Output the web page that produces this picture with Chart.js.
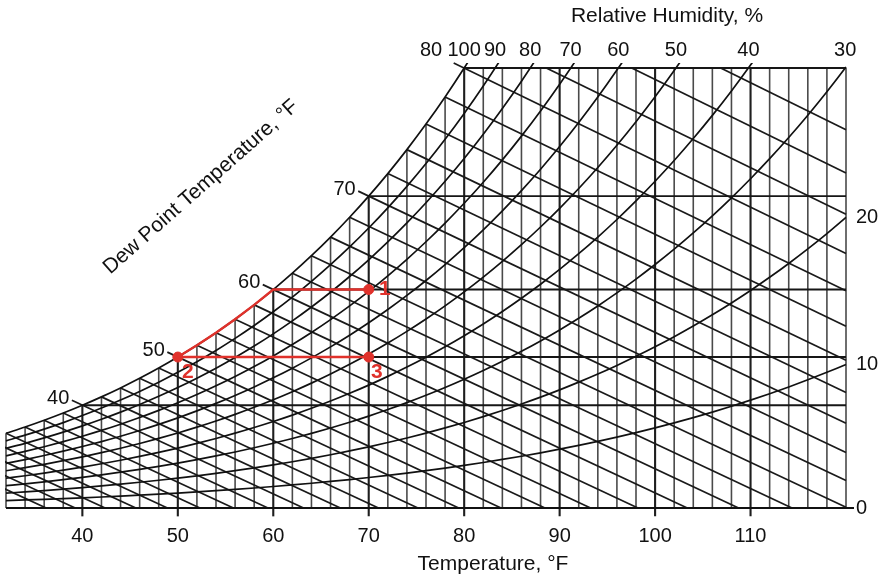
<!DOCTYPE html>
<html>
<head>
<meta charset="utf-8">
<title>Carta psicrométrica</title>
<script src="https://cdn.jsdelivr.net/npm/chart.js@4.4.0/dist/chart.umd.min.js"></script>
<style>
    html, body { margin: 0; padding: 0; background: #fff; }
    #carta { display: block; }
</style>
</head>
<body>
<canvas id="carta" width="890" height="580"></canvas>
<script>
// Tabla de temperaturas (°F) y presión de saturación del vapor (psia)
const temperaturas = [22, 24, 26, 28, 30, 32, 34, 36, 38, 40, 42, 44, 46, 48, 50, 52, 54, 56, 58, 60,
    62, 64, 66, 68, 70, 72, 74, 76, 78, 80, 82, 84, 86, 88, 90, 92, 94, 96, 98, 100,
    102, 104, 106, 108, 110, 112, 114, 116, 118, 120, 122];
const presionSat = [0.05866, 0.06381, 0.06935, 0.07532, 0.08175, 0.08865, 0.09606, 0.10402, 0.11256, 0.12171,
    0.13153, 0.14202, 0.15326, 0.16526, 0.17809, 0.19179, 0.20640, 0.22199, 0.23860, 0.25631,
    0.27515, 0.29519, 0.31651, 0.33916, 0.36321, 0.38876, 0.41585, 0.44458, 0.47504, 0.50728,
    0.54142, 0.57754, 0.61575, 0.65612, 0.69877, 0.74381, 0.79137, 0.84156, 0.89447, 0.95030,
    1.00896, 1.07082, 1.13591, 1.20436, 1.27635, 1.35205, 1.43161, 1.51511, 1.60281, 1.69470, 1.79115];

const humedadesRel = [10, 20, 30, 40, 50, 60, 70, 80, 90, 100];
const etiquetasHRsup = [30, 40, 50, 60, 70, 80, 90, 100];
const etiquetasHRder = [0, 10, 20];
const puntosRocio = [40, 50, 60, 70, 80];
const ticksTemp = [40, 50, 60, 70, 80, 90, 100, 110];

// Proceso 1 -> 2 -> 3 (bulbo seco y punto de rocío, °F)
const procesoTemp = [70, 50, 70];
const procesoRocio = [60, 50, 50];
const procesoNombres = ['1', '2', '3'];

const T_MIN = 32;
const T_MAX = 120;
const PRESION_ATM = 14.696;

const colorProceso = '#e0312b';
const colorTexto = '#111';

function psatEn(t) {
    return presionSat[temperaturas.indexOf(t)];
}

// humedad específica en granos por libra de aire seco
function humedad(pv) {
    return 7000 * 0.621945 * pv / (PRESION_ATM - pv);
}

const W_TOPE = humedad(psatEn(80));

// temperatura donde una curva de HR toca el borde superior
function temperaturaTope(hr) {
    const objetivo = psatEn(80) * 100 / hr;
    for (let i = 1; i < temperaturas.length; i++) {
        if (presionSat[i] >= objetivo) {
            const f = (objetivo - presionSat[i - 1]) / (presionSat[i] - presionSat[i - 1]);
            return Math.min(T_MAX, temperaturas[i - 1] + f * (temperaturas[i] - temperaturas[i - 1]));
        }
    }
    return T_MAX;
}

// línea de bulbo húmedo: desde la saturación hasta W = 0 o hasta el borde derecho
function lineaBulboHumedo(twb, extension) {
    const ws = humedad(psatEn(twb)) / 7000;
    let tFin = twb + (1093 - 0.556 * twb) * ws / 0.240;
    let wFin = 0;
    if (tFin > T_MAX) {
        tFin = T_MAX;
        wFin = ((1093 - 0.556 * twb) * ws - 0.240 * (T_MAX - twb)) / (1093 + 0.444 * T_MAX - twb);
    }
    const pendiente = (wFin - ws) * 7000 / (tFin - twb);
    const inicio = { x: twb - extension, y: ws * 7000 - pendiente * extension };
    return [inicio, { x: tFin, y: wFin * 7000 }];
}

function linea(data, color, ancho, extra) {
    return Object.assign({
        data: data,
        borderColor: color,
        borderWidth: ancho,
        pointRadius: 0,
        fill: false,
        clip: 1
    }, extra || {});
}

const datasets = [];

// proceso en rojo (primero para que quede encima)
const puntosProceso = procesoTemp.map((t, i) => ({ x: t, y: humedad(psatEn(procesoRocio[i])) }));
const trayecto = [puntosProceso[0]];
temperaturas.filter(t => t <= procesoRocio[0] && t >= procesoRocio[1]).reverse()
    .forEach(t => trayecto.push({ x: t, y: humedad(psatEn(t)) }));
trayecto.push(puntosProceso[2]);

datasets.push({
    data: puntosProceso,
    showLine: false,
    pointRadius: 5,
    pointBackgroundColor: colorProceso,
    pointBorderColor: colorProceso,
    clip: false
});
datasets.push(linea(trayecto, colorProceso, 2.4));

// curvas de humedad relativa
const tablaCurvas = temperaturas.filter(t => t >= T_MIN);
humedadesRel.forEach(hr => {
    const datos = tablaCurvas.map(t => ({ x: t, y: humedad(hr / 100 * psatEn(t)) }));
    datasets.push(linea(datos, '#111', 1.7, {
        cubicInterpolationMode: 'monotone',
        clip: { left: 1, top: 5, right: 6, bottom: 0 }
    }));
});
// línea base (HR 0)
datasets.push(linea([{ x: T_MIN, y: 0 }, { x: T_MAX + 1, y: 0 }], '#111', 1.8,
    { clip: { left: 1, top: 0, right: 8, bottom: 2 } }));

// líneas de punto de rocío (horizontales)
puntosRocio.forEach(td => {
    const w = humedad(psatEn(td));
    datasets.push(linea([{ x: td, y: w }, { x: T_MAX, y: w }], '#161616', 1.9,
        { clip: { left: 1, top: 2, right: 2, bottom: 0 } }));
});

// líneas de bulbo húmedo
temperaturas.filter(t => t >= 24 && t <= 86).forEach(twb => {
    const conEtiqueta = puntosRocio.includes(twb);
    datasets.push(linea(lineaBulboHumedo(twb, conEtiqueta ? 1.1 : 0), '#1a1a1a', 1.7,
        conEtiqueta ? { clip: { left: 20, top: 20, right: 1, bottom: 1 } } : {}));
});

// líneas de bulbo seco (verticales)
temperaturas.filter(t => t >= T_MIN && t <= T_MAX).forEach(t => {
    const marca = ticksTemp.includes(t);
    const arriba = Math.min(humedad(psatEn(t)), W_TOPE);
    const abajo = marca ? -W_TOPE * 0.019 : 0;
    datasets.push(linea([{ x: t, y: abajo }, { x: t, y: arriba }],
        marca ? '#1e1e1e' : '#4a4a4a', marca ? 2.1 : 1.6,
        { clip: { left: 2, top: 1, right: 2, bottom: marca ? 10 : 1 } }));
});

const pluginEtiquetas = {
    id: 'etiquetas',
    afterDraw(chart) {
        const { ctx, chartArea } = chart;
        const px = t => chart.scales.x.getPixelForValue(t);
        const py = w => chart.scales.y.getPixelForValue(w);

        ctx.save();
        ctx.fillStyle = colorTexto;
        ctx.textBaseline = 'middle';
        ctx.textAlign = 'center';

        ctx.font = '21px "Liberation Sans", Arial, sans-serif';
        ctx.fillText('Temperature, °F', 493, 564);
        ctx.fillText('Relative Humidity, %', 667, 16);

        ctx.font = '20px "Liberation Sans", Arial, sans-serif';
        ticksTemp.forEach(t => ctx.fillText(String(t), px(t), chartArea.bottom + 28));
        etiquetasHRsup.forEach(hr => ctx.fillText(String(hr), px(temperaturaTope(hr)), 50));

        ctx.textAlign = 'left';
        etiquetasHRder.forEach(hr => {
            ctx.fillText(String(hr), chartArea.right + 10, py(humedad(hr / 100 * psatEn(T_MAX))));
        });

        // punto de rocío sobre la curva de saturación; la del borde va en la fila superior
        ctx.textAlign = 'right';
        puntosRocio.forEach(td => {
            const yy = py(humedad(psatEn(td)));
            if (yy < chartArea.top + 10) {
                ctx.fillText(String(td), px(td) - 22, 50);
            } else {
                ctx.fillText(String(td), px(td) - 13, yy - 7);
            }
        });

        ctx.save();
        ctx.translate(201, 187);
        ctx.rotate(-41.4 * Math.PI / 180);
        ctx.textAlign = 'center';
        ctx.font = '21px "Liberation Sans", Arial, sans-serif';
        ctx.fillText('Dew Point Temperature, °F', 0, 0);
        ctx.restore();

        // números de los estados
        ctx.fillStyle = colorProceso;
        ctx.font = 'bold 21px "Liberation Sans", Arial, sans-serif';
        ctx.textAlign = 'center';
        const desplaz = [[16, 0], [10, 15], [8, 15]];
        puntosProceso.forEach((p, i) => {
            ctx.fillText(procesoNombres[i], px(p.x) + desplaz[i][0], py(p.y) + desplaz[i][1]);
        });
        ctx.restore();
    }
};

const ctx = document.getElementById('carta').getContext('2d');
new Chart(ctx, {
    type: 'line',
    data: { datasets: datasets },
    options: {
        responsive: false,
        animation: false,
        devicePixelRatio: 1,
        events: [],
        layout: { padding: { left: 3, right: 44, top: 68, bottom: 72 } },
        scales: {
            x: { type: 'linear', min: T_MIN, max: T_MAX, display: false },
            y: { type: 'linear', min: 0, max: W_TOPE, display: false }
        },
        plugins: {
            legend: { display: false },
            tooltip: { enabled: false }
        },
        elements: { line: { tension: 0 } }
    },
    plugins: [pluginEtiquetas]
});
</script>
</body>
</html>
